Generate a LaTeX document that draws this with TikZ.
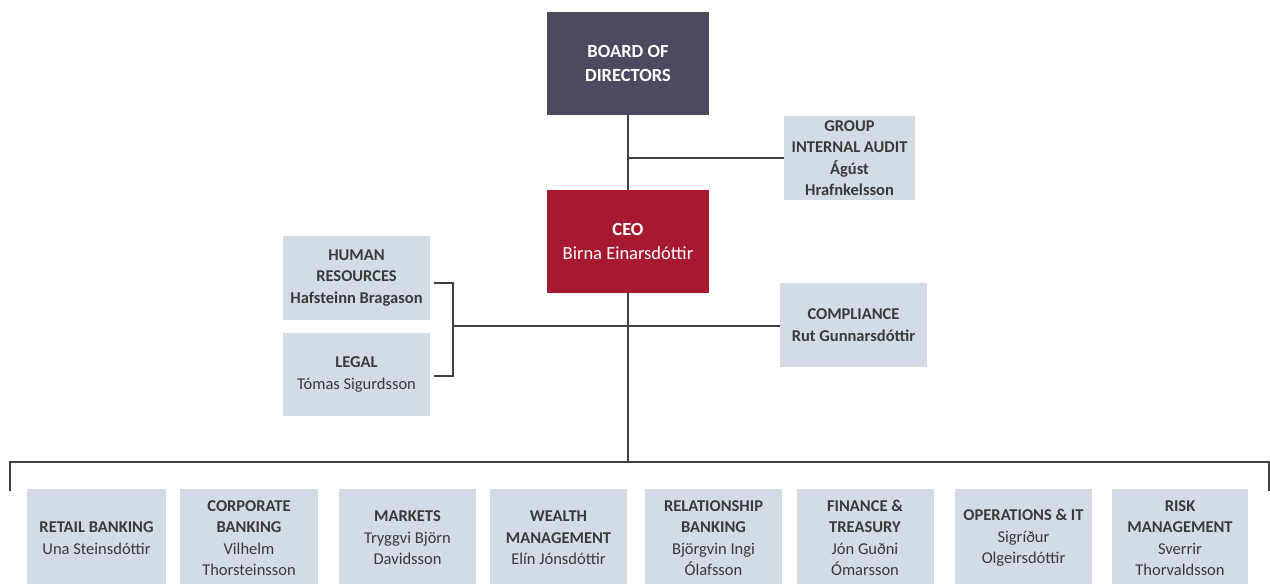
\documentclass[tikz,border=0pt]{standalone}
\usepackage{fontspec}
\setmainfont{Carlito}
\definecolor{boardc}{HTML}{4B4A5E}
\definecolor{ceoc}{HTML}{A6192E}
\definecolor{boxc}{HTML}{D2DCE7}
\definecolor{txtc}{HTML}{3A3A3A}
\definecolor{linec}{HTML}{404040}
\tikzset{
  base/.style={inner sep=0pt, align=center, font=\fontsize{16.5}{21.5}\selectfont},
  bigtext/.style={font=\fontsize{18.5}{23.5}\selectfont},
  dark/.style={base, bigtext, fill=boardc, text=white},
  red/.style={base, bigtext, fill=ceoc, text=white},
  unit/.style={base, fill=boxc, text=txtc},
  conn/.style={draw=linec, line width=1.6pt},
}
\begin{document}
\begin{tikzpicture}[x=1pt,y=-1pt]
\useasboundingbox (0,0) rectangle (1270,584);
% top
\node[dark, minimum width=162, minimum height=103] (board) at (628,63.5) {\textbf{BOARD OF}\\\textbf{DIRECTORS}};
\node[red, minimum width=162, minimum height=103] (ceo) at (628,241.5) {\textbf{CEO}\\Birna Einarsdóttir};
\node[unit, minimum width=131, minimum height=84] (audit) at (849.5,158) {\textbf{GROUP}\\\textbf{INTERNAL AUDIT}\\\textbf{Ágúst}\\\textbf{Hrafnkelsson}};
\node[unit, minimum width=147, minimum height=84] (hr) at (356.5,278) {\textbf{HUMAN}\\\textbf{RESOURCES}\\\textbf{Hafsteinn Bragason}};
\node[unit, minimum width=147, minimum height=83] (legal) at (356.5,374.5) {\textbf{LEGAL}\\Tómas Sigurdsson};
\node[unit, minimum width=147, minimum height=84] (comp) at (853.5,325) {\textbf{COMPLIANCE}\\\textbf{Rut Gunnarsdóttir}};
% bottom row
\node[unit, minimum width=139, minimum height=98] (retail) at (96.5,538) {\textbf{RETAIL BANKING}\\Una Steinsdóttir};
\node[unit, minimum width=138, minimum height=98] (corp) at (249,538) {\textbf{CORPORATE}\\\textbf{BANKING}\\Vilhelm\\Thorsteinsson};
\node[unit, minimum width=137, minimum height=98] (markets) at (407.5,538) {\textbf{MARKETS}\\Tryggvi Björn\\Davidsson};
\node[unit, minimum width=137, minimum height=98] (wealth) at (558.5,538) {\textbf{WEALTH}\\\textbf{MANAGEMENT}\\Elín Jónsdóttir};
\node[unit, minimum width=137, minimum height=98] (rel) at (713.5,538) {\textbf{RELATIONSHIP}\\\textbf{BANKING}\\Björgvin Ingi\\Ólafsson};
\node[unit, minimum width=137, minimum height=98] (fin) at (865,538) {\textbf{FINANCE \&}\\\textbf{TREASURY}\\Jón Guðni\\Ómarsson};
\node[unit, minimum width=137, minimum height=98] (ops) at (1023.5,538) {\textbf{OPERATIONS \& IT}\\Sigríður\\Olgeirsdóttir};
\node[unit, minimum width=136, minimum height=98] (risk) at (1180,538) {\textbf{RISK}\\\textbf{MANAGEMENT}\\Sverrir\\Thorvaldsson};
% connectors
\coordinate (j1) at (board.south |- audit.west);
\coordinate (bus) at (628,462);
\coordinate (busL) at (10,462);
\coordinate (busR) at (1269,462);
\coordinate (tickL) at (10,491);
\coordinate (tickR) at (1269,491);
\coordinate (brT) at (434,283);
\coordinate (brB) at (434,376);
\coordinate (brM) at (453,326);
\draw[conn] (board.south) -- (ceo.north);
\draw[conn] (j1) -- (audit.west);
\draw[conn] (ceo.south) -- (bus);
\draw[conn] (brM) -- (brM -| comp.west);
\draw[conn] (brT) -- (brT -| brM) -- (brB -| brM) -- (brB);
\draw[conn] (tickL) -- (busL) -- (busR) -- (tickR);
\end{tikzpicture}
\end{document}
